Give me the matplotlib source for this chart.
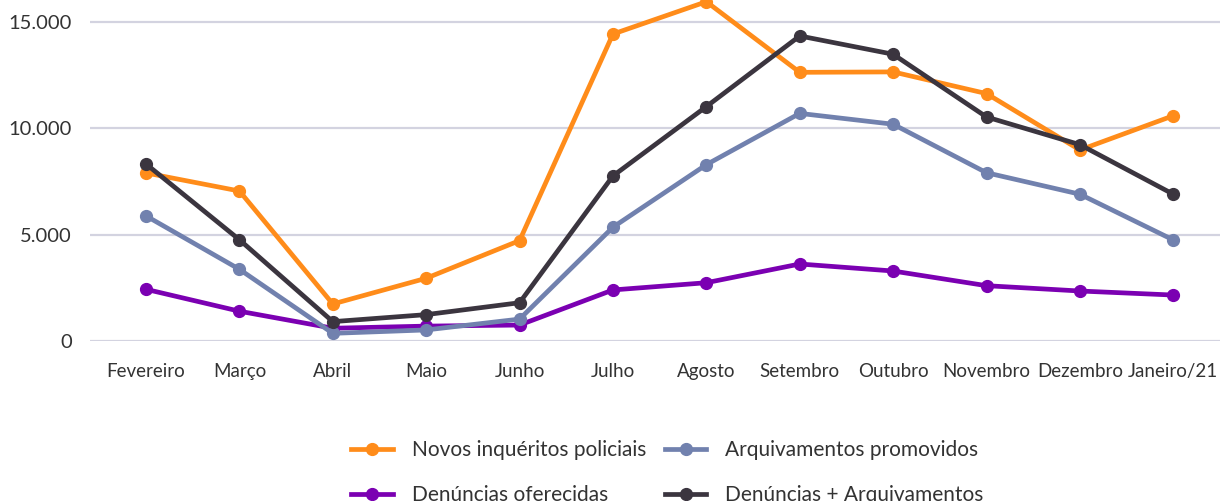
import matplotlib
matplotlib.use('Agg')
import matplotlib.pyplot as plt
from matplotlib.ticker import FuncFormatter

plt.rcParams['font.family'] = ['Lato', 'DejaVu Sans']

meses = ['Fevereiro', 'Março', 'Abril', 'Maio', 'Junho', 'Julho', 'Agosto',
         'Setembro', 'Outubro', 'Novembro', 'Dezembro', 'Janeiro/21']

novos_inqueritos = [7900, 7050, 1740, 2950, 4720, 14430, 15950,
                    12630, 12650, 11630, 8980, 10590]
arquivamentos = [5880, 3370, 360, 520, 1030, 5350, 8290,
                 10700, 10190, 7910, 6900, 4750]
denuncias = [2430, 1400, 600, 700, 750, 2400, 2740,
             3620, 3290, 2600, 2350, 2160]
den_arq = [8320, 4760, 910, 1240, 1800, 7760, 11020,
           14340, 13480, 10530, 9230, 6900]

LABELS = ['Novos inquéritos policiais', 'Arquivamentos promovidos',
          'Denúncias oferecidas', 'Denúncias + Arquivamentos']
COLORS = ['#FF8C1A', '#7181AE', '#7B00B2', '#3B353F']

fig = plt.figure(figsize=(12.2, 5.01), dpi=100)
ax = fig.add_axes([90 / 1220, 160 / 501, 1 - 90 / 1220, 341 / 501])

x = list(range(len(meses)))
style = dict(linewidth=3.4, marker='o', markersize=8.5, clip_on=False)
h_novos, = ax.plot(x, novos_inqueritos, color=COLORS[0], label=LABELS[0], **style)
h_den, = ax.plot(x, denuncias, color=COLORS[2], label=LABELS[2], **style)
h_arq, = ax.plot(x, arquivamentos, color=COLORS[1], label=LABELS[1], **style)
h_da, = ax.plot(x, den_arq, color=COLORS[3], label=LABELS[3], **style)

ax.set_xlim(-0.6, 11.5)
ax.set_ylim(0, 16030)
ax.set_yticks([0, 5000, 10000, 15000])
ax.yaxis.set_major_formatter(FuncFormatter(lambda v, p: f'{int(v):,}'.replace(',', '.')))
ax.set_xticks(x)
ax.set_xticklabels(meses)
ax.grid(axis='y', color='#D3D3E0', linewidth=1.6)
ax.set_axisbelow(True)
for s in ax.spines.values():
    s.set_visible(False)
ax.tick_params(axis='y', length=0, pad=13, labelsize=14.5, labelcolor='#333333')
ax.tick_params(axis='x', length=0, pad=16, labelsize=13.5, labelcolor='#333333')

fig.legend(handles=[h_novos, h_den, h_arq, h_da], ncol=2, loc='center',
           bbox_to_anchor=(0.547, 0.056), frameon=False, fontsize=15,
           labelspacing=1.2, handlelength=2.0, handletextpad=0.9,
           columnspacing=0.9, labelcolor='#333333')

fig.savefig('out.png', dpi=100)
